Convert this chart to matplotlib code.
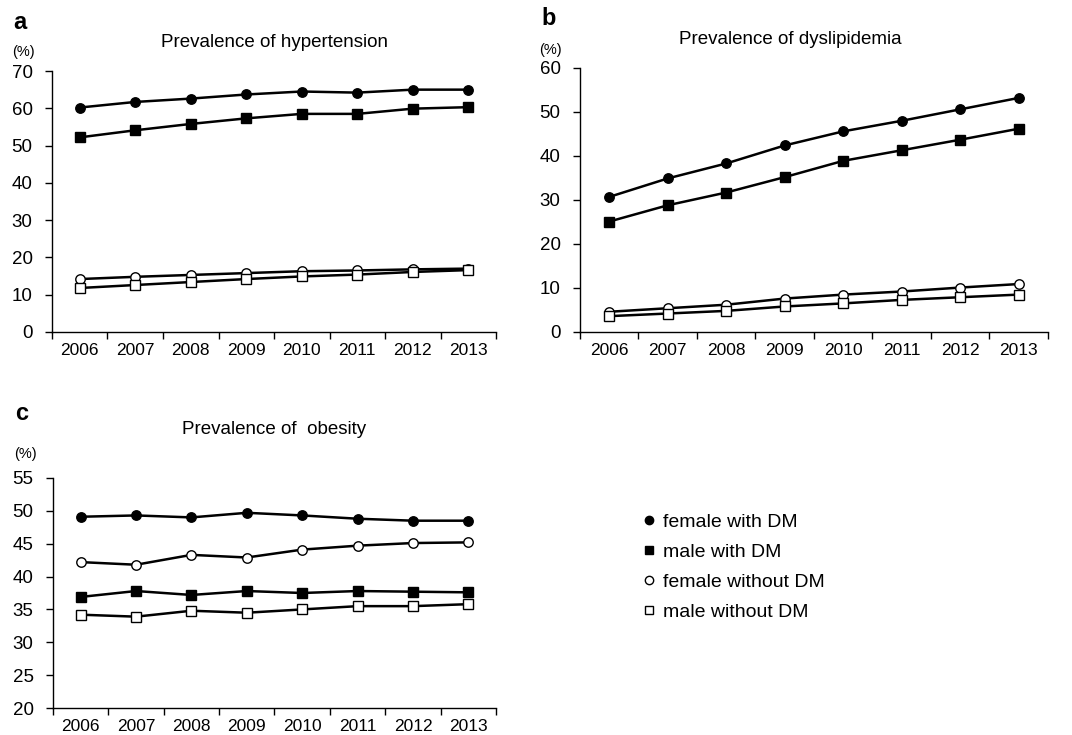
import matplotlib.pyplot as plt
from matplotlib.lines import Line2D
import numpy as np

plt.rcParams['font.family'] = ['Liberation Sans', 'DejaVu Sans']

years = ['2006', '2007', '2008', '2009', '2010', '2011', '2012', '2013']

# hypertension
htn_f_dm = [60.2, 61.7, 62.6, 63.7, 64.5, 64.2, 65.0, 65.0]
htn_m_dm = [52.2, 54.1, 55.8, 57.3, 58.5, 58.5, 59.9, 60.3]
htn_f_no = [14.2, 14.8, 15.3, 15.8, 16.3, 16.5, 16.8, 17.0]
htn_m_no = [11.8, 12.6, 13.4, 14.2, 14.9, 15.4, 16.1, 16.6]

# dyslipidemia
dys_f_dm = [30.7, 34.9, 38.3, 42.4, 45.6, 48.0, 50.6, 53.2]
dys_m_dm = [25.1, 28.8, 31.7, 35.2, 38.9, 41.3, 43.7, 46.2]
dys_f_no = [4.6, 5.4, 6.2, 7.6, 8.5, 9.2, 10.1, 10.9]
dys_m_no = [3.6, 4.2, 4.8, 5.8, 6.5, 7.3, 7.9, 8.5]

# obesity
obe_f_dm = [49.1, 49.3, 49.0, 49.7, 49.3, 48.8, 48.5, 48.5]
obe_m_dm = [36.9, 37.8, 37.2, 37.8, 37.5, 37.8, 37.7, 37.6]
obe_f_no = [42.2, 41.8, 43.3, 42.9, 44.1, 44.7, 45.1, 45.2]
obe_m_no = [34.2, 33.9, 34.8, 34.5, 35.0, 35.5, 35.5, 35.8]

labels = ['female with DM', 'male with DM', 'female without DM', 'male without DM']
styles = [('o', 'black', 6.8), ('s', 'black', 6.5), ('o', 'white', 6.8), ('s', 'white', 6.5)]

fig = plt.figure(figsize=(10.72, 7.35), dpi=100)
ax_a = fig.add_axes([0.0485, 0.5483, 0.4142, 0.3551])
ax_b = fig.add_axes([0.541, 0.5483, 0.4366, 0.3592])
ax_c = fig.add_axes([0.0494, 0.0367, 0.4133, 0.313])

x = np.arange(len(years))


def draw(ax, series, ymax, ymin, step, title, title_pad, title_x=0.5):
    for vals, (m, fc, ms) in zip(series, styles):
        ax.plot(x, vals, color='black', lw=1.8, marker=m, markersize=ms,
                markerfacecolor=fc, markeredgecolor='black', markeredgewidth=1.0)
    ax.set_xlim(-0.5, 7.5)
    ax.set_ylim(ymin, ymax)
    ax.set_yticks(np.arange(ymin, ymax + 1, step))
    ax.set_xticks(np.arange(-0.5, 8, 1))
    ax.set_xticklabels([])
    ax.set_xticks(x, minor=True)
    ax.set_xticklabels(years, minor=True)
    ax.tick_params(axis='x', which='major', direction='out', length=5, width=1)
    ax.tick_params(axis='x', which='minor', length=0, pad=8, labelsize=12.5)
    ax.tick_params(axis='y', direction='out', length=5, width=1, pad=9, labelsize=13.5)
    for s in ['top', 'right']:
        ax.spines[s].set_visible(False)
    for s in ['left', 'bottom']:
        ax.spines[s].set_linewidth(1)
    ax.set_title(title, fontsize=13.5, pad=title_pad, x=title_x)


draw(ax_a, [htn_f_dm, htn_m_dm, htn_f_no, htn_m_no], 70, 0, 10,
     'Prevalence of hypertension', 17)
draw(ax_b, [dys_f_dm, dys_m_dm, dys_f_no, dys_m_no], 60, 0, 10,
     'Prevalence of dyslipidemia', 17, 0.45)
draw(ax_c, [obe_f_dm, obe_m_dm, obe_f_no, obe_m_no], 55, 20, 5,
     'Prevalence of  obesity', 32)

fig.text(0.012, 0.97, 'a', fontsize=17, fontweight='bold', va='center')
fig.text(0.505, 0.975, 'b', fontsize=17, fontweight='bold', va='center')
fig.text(0.014, 0.438, 'c', fontsize=17, fontweight='bold', va='center')
fig.text(0.011, 0.929, '(%)', fontsize=10.5, va='center')
fig.text(0.503, 0.932, '(%)', fontsize=10.5, va='center')
fig.text(0.013, 0.382, '(%)', fontsize=10.5, va='center')

handles = [Line2D([], [], ls='none', marker=m, markersize=ms - 0.8, markerfacecolor=fc,
                  markeredgecolor='black', markeredgewidth=1.0)
           for (m, fc, ms) in styles]
fig.legend(handles, labels, loc='upper left', bbox_to_anchor=(0.584, 0.326),
           frameon=False, fontsize=14, handlelength=0.6, handletextpad=0.4,
           labelspacing=0.64)

fig.savefig('out.png', dpi=100)
